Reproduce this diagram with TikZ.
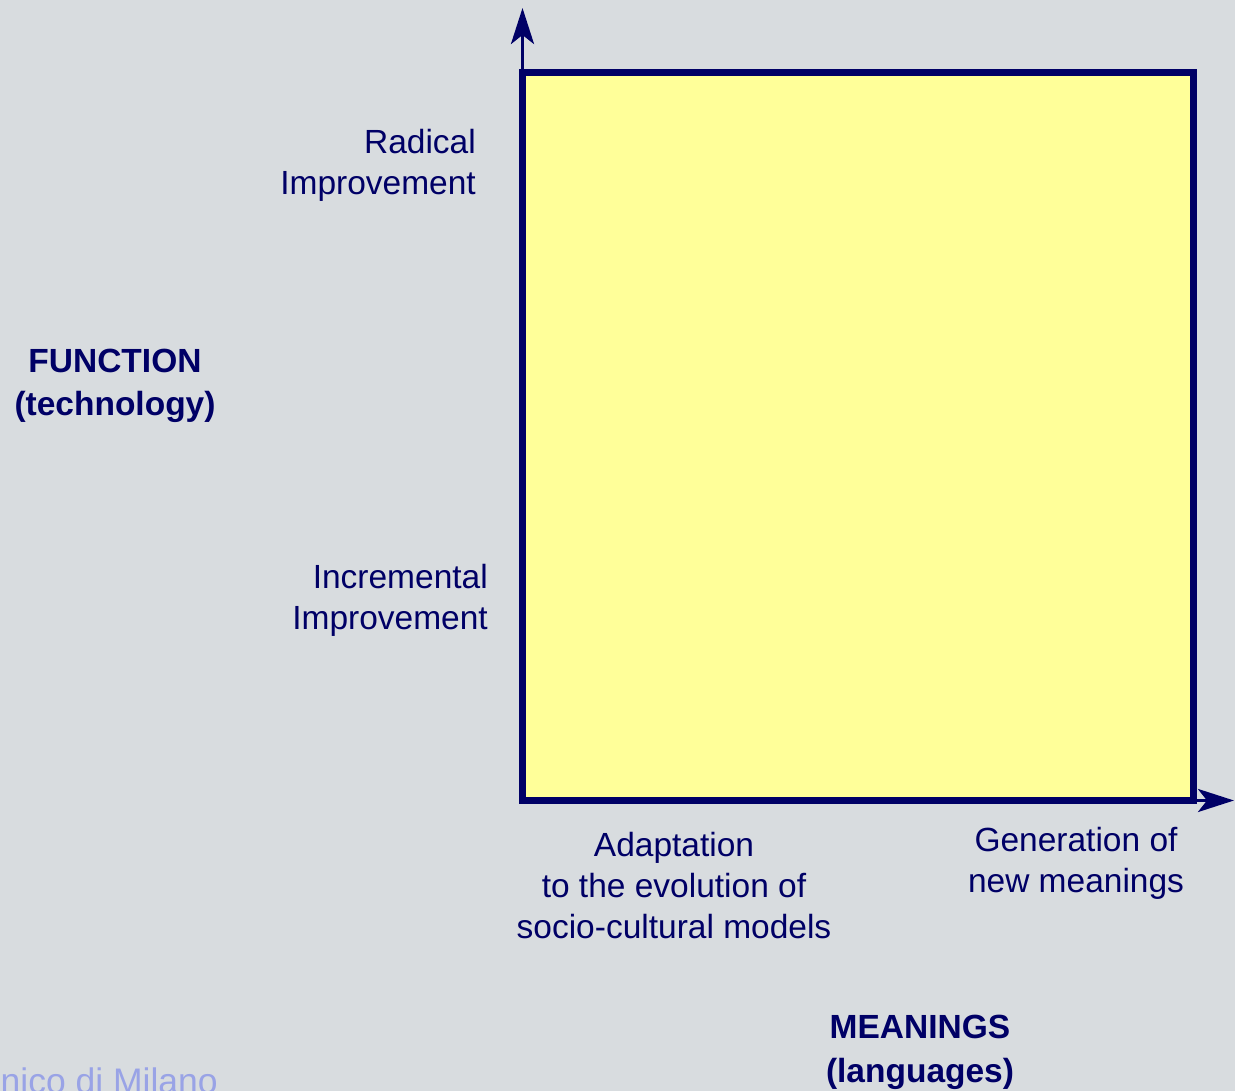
\documentclass[tikz,border=0pt]{standalone}
\usepackage{fontspec}
\setmainfont{Liberation Sans}
\usetikzlibrary{arrows.meta}
\definecolor{bgc}{HTML}{D8DCDF}
\definecolor{navy}{HTML}{000066}
\definecolor{boxy}{HTML}{FFFF99}
\definecolor{faded}{HTML}{99A3E6}
\tikzset{
  lbl/.style={text=navy, inner sep=0pt, font=\fontsize{33.5}{41}\selectfont},
  blbl/.style={lbl, font=\fontsize{33.5}{43.5}\selectfont\bfseries},
  axis/.style={draw=navy, line width=3.5pt, -{Stealth[length=36pt, width=23pt, inset=9pt]}},
}
\begin{document}
\begin{tikzpicture}[x=1pt,y=-1pt]
\useasboundingbox[fill=bgc] (0,0) rectangle (1235,1091);
\clip (0,0) rectangle (1235,1091);
\coordinate (o) at (522.5,800.5);
\coordinate (ytip) at (522.5,8);
\coordinate (xtip) at (1234,800.5);
\draw[axis] (o) -- (ytip);
\draw[axis] (o) -- (xtip);
\node[draw=navy, fill=boxy, line width=6.5pt, minimum width=671pt, minimum height=728pt, anchor=south west, inner sep=0pt, outer sep=0pt] (box) at (o) {};
\node[lbl, align=right, anchor=base east] (rad) at (476,195) {Radical\\Improvement};
\node[lbl, align=right, anchor=base east] (inc) at (488,629) {Incremental\\Improvement};
\node[blbl, align=center, anchor=base] (fun) at (115,416) {FUNCTION\\(technology)};
\node[lbl, align=center, anchor=base] (ada) at (674,938) {Adaptation\\to the evolution of\\socio-cultural models};
\node[lbl, align=center, anchor=base] (gen) at (1076,892) {Generation of\\new meanings};
\node[blbl, align=center, anchor=base] (mea) at (920,1082) {MEANINGS\\(languages)};
\node[lbl, text=faded, font=\fontsize{35.5}{42}\selectfont, anchor=base east] (pol) at (218,1093) {Politecnico di Milano};
\end{tikzpicture}
\end{document}
